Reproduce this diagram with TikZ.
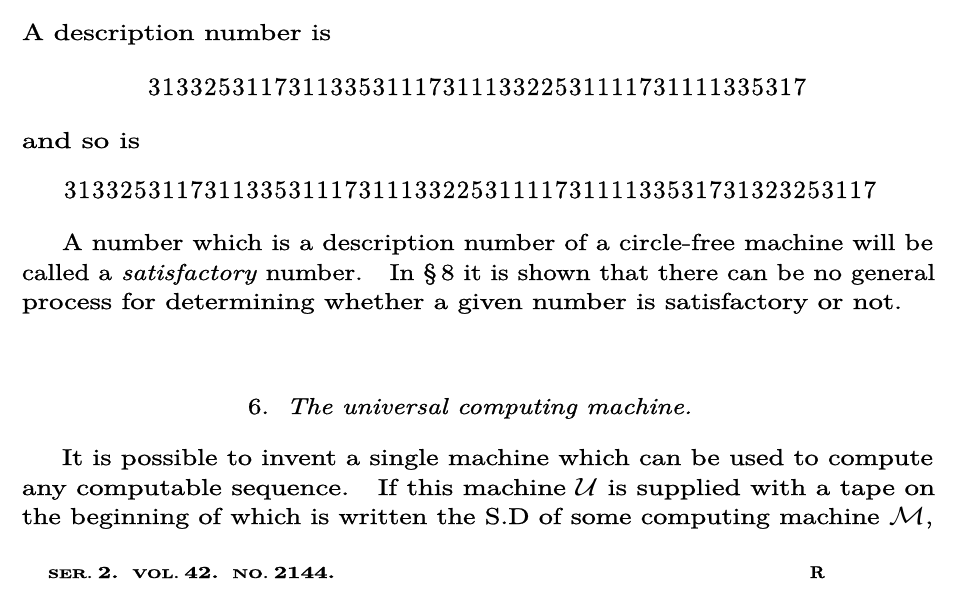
\documentclass[tikz,border=0pt]{standalone}
\usepackage{fontspec}
\setmainfont{lmroman10-regular.otf}[FakeBold=0.9, ItalicFont=lmroman10-italic.otf, ItalicFeatures={FakeBold=0.9}, BoldFont=lmroman10-bold.otf, BoldFeatures={FakeBold=1.2}]
\usepackage{graphicx}
\newcommand\fitline[2]{\resizebox{#1}{\height}{#2}}
\def\spreadB#1{#1\spreadC}
\def\spreadC#1{\ifx#1\relax\else\hfil#1\expandafter\spreadC\fi}
\newcommand\spreadnum[2]{\hbox to #1{\spreadB#2\relax}}
\newcommand\ftsc[1]{{\fontsize{12.5}{15}\selectfont #1}}
\newcommand\ftdg[1]{{\fontsize{17}{19}\selectfont #1}}
\begin{document}
\begin{tikzpicture}[x=1pt,y=-1pt,
  txt/.style={inner sep=0pt, outer sep=0pt, anchor=base west, font=\fontsize{23}{29}\selectfont},
  num/.style={inner sep=0pt, outer sep=0pt, anchor=base west, font=\fontsize{25}{29}\selectfont},
  foot/.style={inner sep=0pt, outer sep=0pt, anchor=base west, font=\bfseries}]
\useasboundingbox[fill=white] (0,0) rectangle (957,612);
\node[txt] (l1) at (22,40) {\fitline{309pt}{A description number is}};
\node[num] (n1) at (148,95) {\spreadnum{658pt}{31332531173113353111731113322531111731111335317}};
\node[txt] (l3) at (22,148) {\fitline{118pt}{and so is}};
\node[num] (n2) at (64,198) {\spreadnum{812pt}{3133253117311335311173111332253111173111133531731323253117}};
\node[txt] (p1) at (62,250) {\fitline{871pt}{A number which is a description number of a circle-free machine will be}};
\node[txt] (p2) at (22,280) {\fitline{913pt}{called a \textit{satisfactory} number.\quad In \S\,8 it is shown that there can be no general}};
\node[txt] (p3) at (22,309) {\fitline{880pt}{process for determining whether a given number is satisfactory or not.}};
\node[txt] (h) at (248,414) {\fitline{444pt}{6.\ \ \textit{The universal computing machine.}}};
\node[txt] (q1) at (62,465) {\fitline{871pt}{It is possible to invent a single machine which can be used to compute}};
\node[txt] (q2) at (22,495) {\fitline{913pt}{any computable sequence.\quad If this machine $\mathcal{U}$ is supplied with a tape on}};
\node[txt] (q3) at (22,524) {\fitline{911pt}{the beginning of which is written the S.D of some computing machine $\mathcal{M}$,}};
\node[foot] (f1) at (48,578) {\fitline{287pt}{\ftsc{SER.}\ \ftdg{2.}\quad\ftsc{VOL.}\ \ftdg{42.}\quad\ftsc{NO.}\ \ftdg{2144.}}};
\node[foot] (f2) at (810,578) {\ftdg{R}};
\end{tikzpicture}
\end{document}
